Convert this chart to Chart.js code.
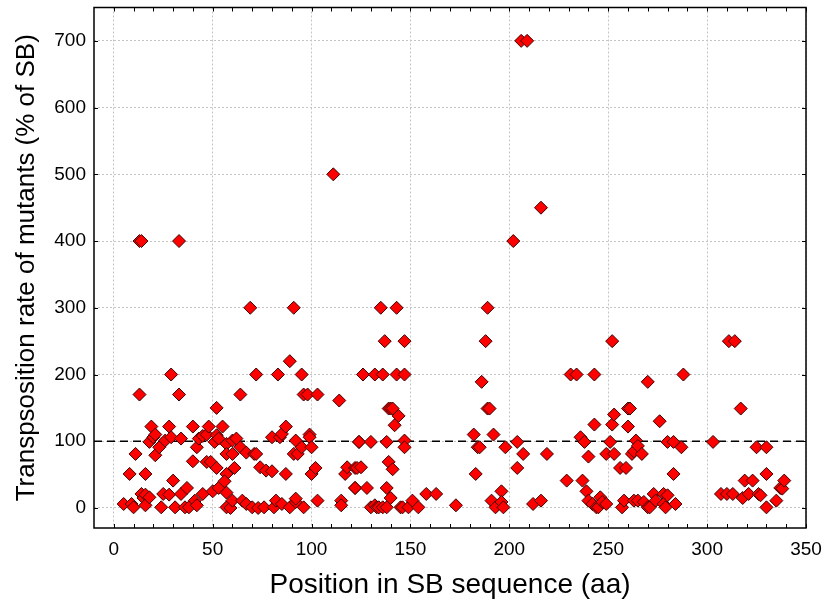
<!DOCTYPE html>
<html>
<head>
<meta charset="utf-8">
<script src="https://cdn.jsdelivr.net/npm/chart.js@4/dist/chart.umd.min.js"></script>
<style>
  body { margin: 0; background: #fff; }
</style>
</head>
<body>
<canvas id="myChart" width="825" height="608"></canvas>
<script>
// position of each mutant in the SB sequence (aa) and its transposition rate (% of SB)
const positions = [
  5, 9, 10, 8, 11, 13, 13, 14, 14, 15, 16, 16, 16, 18, 18, 20, 19, 21, 21, 23,
  24, 25, 26, 28, 28, 29, 29, 30, 31, 33, 33, 34, 34, 36, 37, 38, 40, 40, 41, 42,
  42, 43, 45, 45, 47, 47, 48, 49, 50,
  51, 52, 52, 52, 53, 53, 55, 57, 57, 57, 56, 57, 57, 59, 60, 60, 60, 61, 62, 64,
  64, 65, 67, 67, 69, 70, 71, 72, 72, 73, 74, 76, 77, 80, 80, 81, 82, 83, 84, 85,
  85, 87, 87, 89, 89, 91, 91, 92, 92, 92, 93, 95, 95, 96, 96, 98, 99, 99, 100, 100,
  102, 103, 103,
  111, 114, 115, 115, 117, 118, 122, 122, 122, 123, 124, 124, 125, 126, 128, 130, 130, 132, 132, 133,
  134, 135, 136, 136, 137, 138, 138, 138, 139, 139, 140, 140, 141, 141, 142, 143, 143, 144, 145, 146,
  147, 147, 147, 147, 149, 151, 154, 158, 163,
  173, 182, 183, 184, 185, 186, 189, 188, 189, 190, 191, 192, 193, 196, 196, 197, 198, 202, 204, 204,
  206, 209, 207, 212, 216, 216, 219, 229, 231,
  234, 236, 237, 238, 239, 240, 240, 242, 243, 243, 244, 245, 246, 247, 249, 249, 251, 252, 252, 253,
  253, 256, 257, 258, 259, 260, 260, 261, 262, 263, 263, 264, 265, 265, 267, 268, 270, 270, 271, 273,
  274, 276, 278, 278, 279, 280, 280, 283, 283, 284, 287, 288, 303, 307, 310, 311, 313, 314, 317, 318,
  319, 321, 323, 325, 326, 327, 330, 330, 330, 335, 337, 338, 339
];
const rates = [
  6, 6, 1, 51, 81, 170, 400, 400, 21, 15, 51, 20, 4, 16, 99, 106, 122, 110, 79, 91,
  1, 21, 101, 20, 122, 200, 106, 41, 1, 170, 400, 104, 21, 1, 30, 1, 122, 70, 11, 91,
  4, 104, 108, 21, 110, 69, 122, 69, 25,
  99, 150, 60, 109, 30, 104, 122, 96, 81, 51, 40, 23, 1, 0, 11, 101, 81, 60, 104, 170,
  91, 11, 83, 6, 300, 1, 81, 81, 200, 0, 61, 1, 56, 55, 106, 1, 11, 200, 106, 111,
  6, 122, 51, 220, 1, 300, 81, 9, 14, 101, 81, 91, 200, 170, 1, 170, 110, 106, 91, 51,
  60, 170, 11,
  500, 161, 11, 4, 51, 61, 30, 30, 60, 60, 99, 99, 61, 200, 30, 99, 1, 4, 200, 1,
  1, 300, 200, 1, 250, 30, 99, 1, 69, 149, 15, 149, 149, 58, 124, 300, 200, 138, 1, 1,
  250, 200, 101, 91, 1, 11, 1, 21, 21,
  4, 110, 51, 91, 91, 189, 300, 250, 149, 149, 11, 110, 1, 25, 9, 1, 91, 400, 99, 60,
  700, 700, 81, 6, 11, 450, 81, 41, 200,
  200, 106, 41, 99, 25, 11, 77, 6, 200, 125, 1, 1, 16, 9, 81, 6, 99, 125, 250, 81,
  140, 60, 1, 11, 60, 149, 122, 149, 81, 11, 85, 101, 93, 11, 81, 9, 1, 189, 1, 21,
  11, 130, 21, 6, 1, 19, 99, 99, 51, 6, 91, 200, 99, 21, 21, 250, 21, 250, 149, 15,
  41, 21, 41, 91, 21, 19, 91, 51, 1, 11, 30, 29, 41
];

const xTicks = [0, 50, 100, 150, 200, 250, 300, 350];
const yTicks = [0, 100, 200, 300, 400, 500, 600, 700];
const xRange = [-10, 350];
const yRange = [-30, 750];
const threshold = 100;

const fontFamily = "Arial, 'Liberation Sans', sans-serif";

// frame round the plot plus inward tick marks on all four sides
const framePlugin = {
  id: "frame",
  afterDatasetsDraw(chart) {
    const { ctx, chartArea: a, scales } = chart;
    ctx.save();
    ctx.strokeStyle = "#000";
    ctx.lineWidth = 1.5;
    ctx.strokeRect(a.left, a.top, a.right - a.left, a.bottom - a.top);
    ctx.lineWidth = 1;
    ctx.beginPath();
    for (let v = 0; v <= 350; v += 10) {
      const px = Math.round(scales.x.getPixelForValue(v)) + 0.5;
      ctx.moveTo(px, a.bottom); ctx.lineTo(px, a.bottom - 4);
      ctx.moveTo(px, a.top); ctx.lineTo(px, a.top + 4);
    }
    yTicks.forEach(v => {
      const py = Math.round(scales.y.getPixelForValue(v)) + 0.5;
      ctx.moveTo(a.left, py); ctx.lineTo(a.left + 4, py);
      ctx.moveTo(a.right, py); ctx.lineTo(a.right - 4, py);
    });
    ctx.stroke();
    ctx.restore();
  }
};

const data = {
  datasets: [
    {
      type: "scatter",
      data: positions.map((x, i) => ({ x: x, y: rates[i] })),
      pointStyle: "rectRot",
      pointRadius: 6.5,
      backgroundColor: "#ff0000",
      borderColor: "#3a0000",
      borderWidth: 1,
      order: 1,
    },
    {
      type: "line",
      data: xRange.map(x => ({ x: x, y: threshold })),
      borderColor: "#000",
      borderWidth: 1.5,
      borderDash: [8, 5],
      pointRadius: 0,
      order: 2,
    },
  ],
};

const config = {
  type: "scatter",
  data: data,
  options: {
    responsive: false,
    animation: false,
    layout: { padding: { top: 7, right: 19, left: 0, bottom: 0 } },
    plugins: { legend: { display: false }, tooltip: { enabled: false } },
    scales: {
      x: {
        type: "linear",
        min: xRange[0],
        max: xRange[1],
        afterBuildTicks: s => { s.ticks = xTicks.map(v => ({ value: v })); },
        afterFit: s => { s.height = 80; s.paddingLeft = 0; s.paddingRight = 0; },
        grid: { color: "#c4c4c4", drawTicks: false },
        border: { display: false, dash: [2, 2] },
        ticks: { color: "#000", font: { family: fontFamily, size: 19 }, padding: 10, maxRotation: 0 },
        title: {
          display: true,
          text: "Position in SB sequence (aa)",
          color: "#000",
          font: { family: fontFamily, size: 28 },
          padding: 6,
        },
      },
      y: {
        type: "linear",
        min: yRange[0],
        max: yRange[1],
        afterBuildTicks: s => { s.ticks = yTicks.map(v => ({ value: v })); },
        afterFit: s => { s.width = 94; s.paddingTop = 0; s.paddingBottom = 0; },
        grid: { color: "#c4c4c4", drawTicks: false },
        border: { display: false, dash: [2, 2] },
        ticks: { color: "#000", font: { family: fontFamily, size: 19 }, padding: 8 },
        title: {
          display: true,
          text: "Transpsosition rate of mutants (% of SB)",
          color: "#000",
          font: { family: fontFamily, size: 26 },
          padding: 11,
        },
      },
    },
  },
  plugins: [framePlugin],
};

const myChart = new Chart(document.getElementById("myChart"), config);
</script>
</body>
</html>
